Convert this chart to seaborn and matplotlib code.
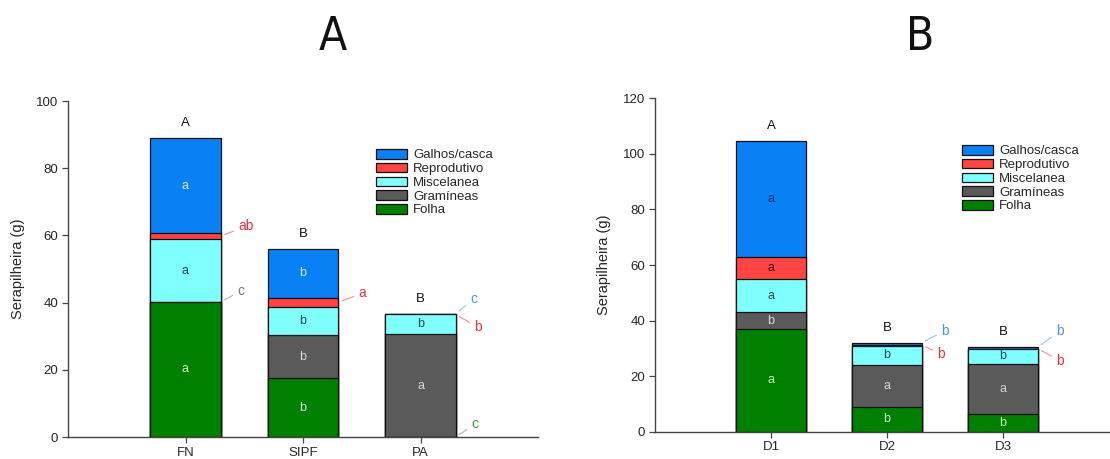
import pandas as pd
import matplotlib
matplotlib.use("Agg")
import matplotlib.pyplot as plt
from matplotlib.patches import Patch
import seaborn as sns

# stack order: bottom -> top
SERIES = ["Folha", "Gramíneas", "Miscelanea", "Reprodutivo", "Galhos/casca"]
COLORS = ["#008000", "#5a5a5a", "#80ffff", "#ff4444", "#0a80f5"]

CATS_A = ["FN", "SIPF", "PA"]
FOLHA_A = [40.2, 17.5, 0.0]
GRAM_A = [0.0, 12.9, 30.6]
MISC_A = [18.7, 8.3, 5.9]
REPRO_A = [1.7, 2.8, 0.0]
GALHOS_A = [28.5, 14.5, 0.15]
GROUP_A = ["A", "B", "B"]
INNER_A = [["a", "b", ""], ["", "b", "a"], ["a", "b", "b"], ["", "", ""], ["a", "b", ""]]

CATS_B = ["D1", "D2", "D3"]
FOLHA_B = [36.9, 9.0, 6.5]
GRAM_B = [6.1, 15.0, 18.0]
MISC_B = [11.9, 6.9, 5.2]
REPRO_B = [8.0, 0.3, 0.2]
GALHOS_B = [41.9, 0.8, 0.5]
GROUP_B = ["A", "B", "B"]
INNER_B = [["a", "b", "b"], ["b", "a", "a"], ["a", "b", "b"], ["a", "", ""], ["a", "", ""]]

# side letters: (bar, series, anchor, text, color, dx px, dy px)
SIDE_A = [
    (0, 3, "mid", "ab", "#e8323c", 25, 10),
    (0, 1, "top", "c", "#6f7780", 20, 11),
    (1, 3, "mid", "a", "#e8323c", 24, 9),
    (2, 4, "top", "c", "#4a95e6", 18, 15),
    (2, 3, "top", "b", "#e8323c", 22, -13),
    (2, 0, "top", "c", "#3a9a3a", 19, 13),
]
SIDE_B = [
    (1, 4, "top", "b", "#4a95e6", 23, 12),
    (1, 3, "top", "b", "#e8323c", 19, -9),
    (2, 4, "top", "b", "#4a95e6", 22, 16),
    (2, 3, "top", "b", "#e8323c", 22, -12),
]

INNER_COL_A = ["#c8f5c8", "#d8d8d8", "#1b4b55", "#3a0000", "#dce9ff"]
INNER_COL_B = ["#c8f5c8", "#d8d8d8", "#1b4b55", "#3a0000", "#0d2a66"]

sns.set_style("ticks")
plt.rcParams["font.family"] = ["Liberation Sans", "DejaVu Sans"]

PX = 0.72  # points per pixel at dpi 100


def draw_panel(ax, cats, values, inner, inner_cols, side, groups, ylim, yticks):
    cum = []
    run = [0.0] * len(cats)
    for v in values:
        run = [r + x for r, x in zip(run, v)]
        cum.append(run)
    # draw from the tallest cumulative down so lower stacks overlay
    for k in range(len(values) - 1, -1, -1):
        df = pd.DataFrame({"cat": cats, "val": cum[k]})
        sns.barplot(data=df, x="cat", y="val", order=cats, color=COLORS[k],
                    saturation=1, width=0.6, edgecolor="#111111", linewidth=0.9,
                    errorbar=None, ax=ax)
    ax.set_xlim(-1, 3)
    ax.set_ylim(*ylim)
    ax.set_yticks(yticks)
    ax.set_xlabel("")
    ax.set_ylabel("Serapilheira (g)", fontsize=10.5)
    for s in ["top", "right"]:
        ax.spines[s].set_visible(False)
    for s in ["left", "bottom"]:
        ax.spines[s].set_color("#444444")
        ax.spines[s].set_linewidth(1.0)
    ax.tick_params(axis="both", length=4, width=0.9, color="#444444",
                   labelsize=9.5, pad=3)

    for k in range(len(values)):
        for i in range(len(cats)):
            t = inner[k][i]
            if t:
                lo = cum[k][i] - values[k][i]
                ax.text(i, (lo + cum[k][i]) / 2, t, ha="center", va="center",
                        fontsize=9, color=inner_cols[k])
    for i, g in enumerate(groups):
        ax.annotate(g, (i, cum[-1][i]), xytext=(0, 15 * PX), textcoords="offset points",
                    ha="center", va="center", fontsize=9.5, color="#111111")
    for i, k, where, t, c, dx, dy in side:
        lo = cum[k][i] - values[k][i]
        y = cum[k][i] if where == "top" else (lo + cum[k][i]) / 2
        ax.annotate(t, (i + 0.3, y), xytext=(dx * PX, dy * PX), textcoords="offset points",
                    ha="center", va="center", fontsize=10, color=c,
                    arrowprops=dict(arrowstyle="-", color=c, alpha=0.55, lw=0.8,
                                    shrinkA=1, shrinkB=3))


fig = plt.figure(figsize=(11.1, 4.59), dpi=100)
ax_a = fig.add_axes([68 / 1110, 22 / 459, 470 / 1110, 336 / 459])
ax_b = fig.add_axes([655 / 1110, 27.3 / 459, 464 / 1110, 333.4 / 459])

draw_panel(ax_a, CATS_A, [FOLHA_A, GRAM_A, MISC_A, REPRO_A, GALHOS_A], INNER_A,
           INNER_COL_A, SIDE_A, GROUP_A, (0, 100), range(0, 101, 20))
draw_panel(ax_b, CATS_B, [FOLHA_B, GRAM_B, MISC_B, REPRO_B, GALHOS_B], INNER_B,
           INNER_COL_B, SIDE_B, GROUP_B, (0, 120), range(0, 121, 20))

ax_a.yaxis.set_label_coords(-0.092, 0.5)
ax_b.yaxis.set_label_coords(-0.094, 0.5)

handles = [Patch(facecolor=COLORS[k], edgecolor="#111111", linewidth=0.9, label=SERIES[k])
           for k in range(len(SERIES) - 1, -1, -1)]
for x0, y0 in [(376, 149), (962, 145)]:
    fig.legend(handles=handles, loc="upper left", bbox_to_anchor=(x0 / 1110, 1 - y0 / 459),
               frameon=False, fontsize=9.5, handlelength=2.35, handleheight=0.75,
               labelspacing=0.1, handletextpad=0.45, borderpad=0, borderaxespad=0)

for x0, t in [(333, "A"), (920, "B")]:
    fig.text(x0 / 1110, 1 - 37 / 459, t, ha="center", va="center", fontsize=33,
             family="DejaVu Sans", fontstretch="condensed", color="#111111")

fig.savefig("out.png", dpi=100)
